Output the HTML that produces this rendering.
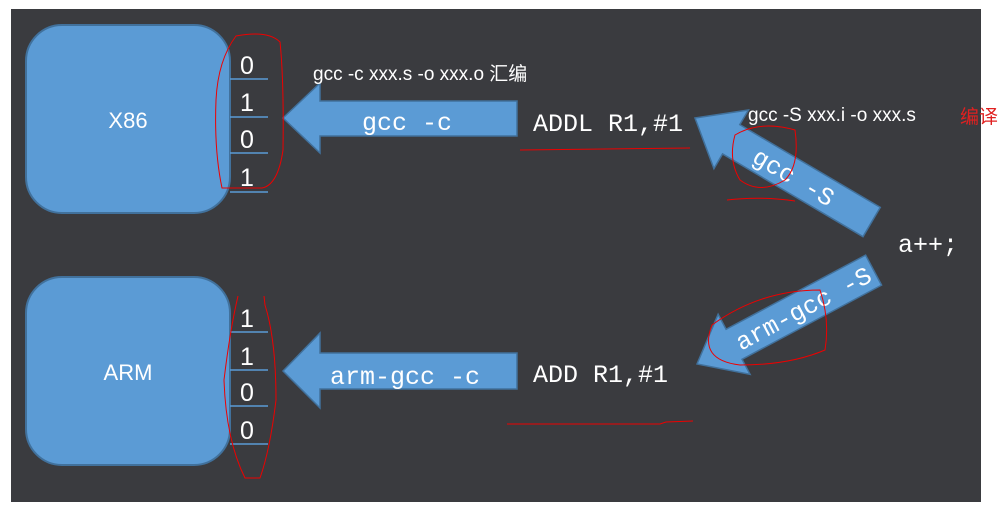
<!DOCTYPE html>
<html><head><meta charset="utf-8"><style>
html,body{margin:0;padding:0;background:#fff;}
svg{display:block;}
</style></head><body>
<svg width="1005" height="522" xmlns="http://www.w3.org/2000/svg">
<rect x="11" y="9" width="970" height="493" fill="#3a3b3f"/>
<!-- boxes -->
<rect x="26" y="25" width="204" height="188" rx="36" fill="#5b9bd5" stroke="#41719c" stroke-width="2"/>
<rect x="26" y="277" width="204" height="188" rx="36" fill="#5b9bd5" stroke="#41719c" stroke-width="2"/>
<text x="128" y="128" font-family="Liberation Sans, sans-serif" font-size="22" fill="#fff" text-anchor="middle">X86</text>
<text x="128" y="380" font-family="Liberation Sans, sans-serif" font-size="22" fill="#fff" text-anchor="middle">ARM</text>
<!-- bits -->
<g stroke="#5b9bd5" stroke-width="1.5">
<line x1="230" y1="79" x2="268" y2="79"/><line x1="230" y1="117" x2="268" y2="117"/>
<line x1="230" y1="153" x2="268" y2="153"/><line x1="230" y1="192" x2="268" y2="192"/>
<line x1="230" y1="332" x2="268" y2="332"/><line x1="230" y1="370" x2="268" y2="370"/>
<line x1="230" y1="406" x2="268" y2="406"/><line x1="230" y1="444" x2="268" y2="444"/>
</g>
<g font-family="Liberation Sans, sans-serif" font-size="25" fill="#fff" text-anchor="middle">
<text x="247" y="74">0</text><text x="247" y="111">1</text><text x="247" y="148">0</text><text x="247" y="186">1</text>
<text x="247" y="327">1</text><text x="247" y="365">1</text><text x="247" y="401">0</text><text x="247" y="439">0</text>
</g>
<!-- horizontal arrows -->
<polygon points="283,118 320,83 320,101 517,101 517,136 320,136 320,153" fill="#5b9bd5" stroke="#41719c" stroke-width="1.5"/>
<polygon points="283,371 320,333 320,353 517,353 517,389 320,389 320,408" fill="#5b9bd5" stroke="#41719c" stroke-width="1.5"/>
<g font-family="Liberation Mono, monospace" font-size="25" fill="#fff">
<text x="362" y="130">gcc -c</text>
<text x="330" y="384">arm-gcc -c</text>
<text x="533" y="131">ADDL R1,#1</text>
<text x="533" y="382">ADD R1,#1</text>
<text x="898" y="252">a++;</text>
</g>
<!-- diagonal arrows -->
<g transform="translate(695,118) rotate(30.5)">
<polygon points="0,0 42,-34 42,-17 205,-17 205,17 42,17 42,34" fill="#5b9bd5" stroke="#41719c" stroke-width="1.5"/>
<text x="115" y="9" font-family="Liberation Mono, monospace" font-size="25" fill="#fff" text-anchor="middle">gcc -S</text>
</g>
<g transform="translate(697,364) rotate(-28)">
<polygon points="0,0 42,-34 42,-17 200,-17 200,17 42,17 42,34" fill="#5b9bd5" stroke="#41719c" stroke-width="1.5"/>
<text x="120" y="9" font-family="Liberation Mono, monospace" font-size="25" fill="#fff" text-anchor="middle">arm-gcc -S</text>
</g>
<!-- labels -->
<text x="313" y="80" font-family="Liberation Sans, 'Noto Sans CJK SC', sans-serif" font-size="19" fill="#fff">gcc -c xxx.s -o xxx.o 汇编</text>
<text x="748" y="121" font-family="Liberation Sans, sans-serif" font-size="19" fill="#fff">gcc -S xxx.i -o xxx.s</text>
<text x="960" y="123" font-family="'Noto Sans CJK SC', sans-serif" font-size="19" fill="#e02020">编译</text>
<!-- red marks -->
<g fill="none" stroke="#e00" stroke-width="1">
<path d="M236,36 Q268,30 280,42 Q284,80 283,150 Q278,185 262,188 L222,188 Q214,150 216,100 Q218,60 236,36 Z"/>
<path d="M238,296 Q230,330 224,380 Q226,440 245,478 L260,478 Q270,450 276,400 Q276,340 265,305 L264,296"/>
<line x1="520" y1="150" x2="690" y2="148"/>
<path d="M507,424 L660,424 L666,422 L693,421"/>
<path d="M735,135 Q760,120 795,130 Q800,165 785,180 Q760,195 740,180 Q728,160 735,135 Z"/>
<path d="M727,200 Q760,196 795,201"/>
<path d="M712,325 Q760,290 820,290 Q830,320 825,350 Q790,365 740,365 Q698,360 712,325 Z"/>
</g>
</svg>
</body></html>
